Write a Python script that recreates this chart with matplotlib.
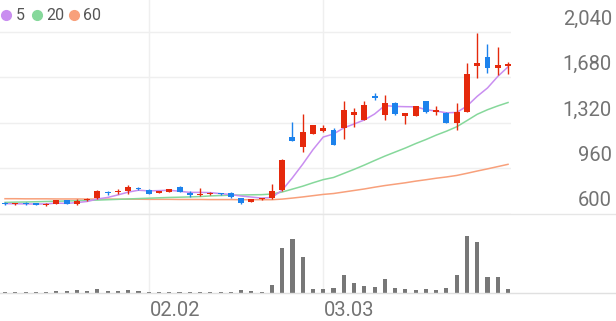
import numpy as np
import matplotlib
matplotlib.use('Agg')
import matplotlib.pyplot as plt
import matplotlib.transforms as mtransforms
from matplotlib.lines import Line2D

plt.rcParams['font.family'] = ['Roboto', 'DejaVu Sans']

# daily candles
opens = [689, 677, 689, 685, 669, 679, 708, 677, 711, 724,
         777, 772, 784, 808, 790, 769, 777, 811, 764, 753,
         761, 764, 769, 727, 697, 716, 724, 790, 1207, 1132,
         1233, 1257, 1265, 1278, 1383, 1344, 1534, 1383, 1481, 1375,
         1375, 1494, 1409, 1402, 1318, 1409, 1773, 1840, 1753, 1771]
highs = [695, 690, 692, 688, 684, 710, 710, 716, 727, 786,
         780, 795, 830, 812, 795, 783, 798, 822, 782, 803,
         772, 767, 777, 730, 722, 730, 835, 1035, 1330, 1389,
         1306, 1304, 1283, 1494, 1436, 1494, 1555, 1542, 1484, 1400,
         1457, 1497, 1451, 1405, 1481, 1792, 2030, 1943, 1919, 1803]
lows = [672, 675, 669, 672, 667, 677, 677, 674, 700, 722,
        753, 758, 758, 792, 755, 767, 775, 771, 737, 745,
        750, 753, 729, 677, 694, 713, 721, 782, 1178, 1093,
        1231, 1249, 1144, 1191, 1291, 1342, 1502, 1344, 1386, 1312,
        1372, 1397, 1383, 1320, 1265, 1406, 1674, 1713, 1700, 1705]
closes = [677, 687, 679, 674, 682, 708, 679, 705, 719, 784,
          769, 780, 811, 795, 758, 780, 795, 774, 750, 758,
          769, 756, 737, 689, 719, 727, 784, 1027, 1180, 1251,
          1304, 1283, 1146, 1423, 1405, 1462, 1518, 1481, 1389, 1397,
          1454, 1409, 1423, 1322, 1409, 1708, 1792, 1753, 1779, 1787]

# moving averages as drawn
ma5 = [682, 681, 680, 679, 680, 686, 684, 690, 699, 719,
       731, 751, 773, 788, 783, 785, 788, 780, 771, 771,
       769, 761, 754, 742, 734, 726, 731, 789, 887, 994,
       1109, 1209, 1233, 1281, 1312, 1344, 1391, 1458, 1451, 1449,
       1448, 1426, 1414, 1401, 1403, 1454, 1531, 1597, 1688, 1764]
ma20 = [692, 694, 695, 697, 699, 701, 703, 705, 707, 710,
        713, 716, 719, 722, 725, 728, 731, 733, 735, 738,
        743, 746, 749, 750, 752, 753, 758, 774, 797, 820,
        847, 872, 889, 921, 953, 987, 1023, 1058, 1090, 1122,
        1157, 1189, 1224, 1255, 1290, 1339, 1389, 1425, 1455, 1482]
ma60 = [721, 721, 720, 720, 720, 719, 719, 719, 718, 718,
        718, 717, 717, 717, 716, 716, 716, 715, 715, 715,
        714, 714, 714, 713, 713, 713, 713, 718, 726, 735,
        745, 755, 762, 774, 786, 798, 812, 825, 836, 847,
        860, 871, 883, 893, 905, 922, 940, 957, 975, 993]

# volume, thousand shares
volume = [20, 20, 20, 20, 20, 40, 40, 60, 40, 90,
          40, 40, 70, 40, 30, 30, 30, 20, 30, 30,
          30, 20, 30, 60, 40, 30, 166, 912, 1080, 732,
          86, 86, 106, 366, 212, 152, 126, 286, 100, 80,
          66, 86, 74, 100, 360, 1152, 1020, 320, 326, 92]

date_pos = [14, 31]
date_labels = ['02.02', '03.03']
price_ticks = [600, 960, 1320, 1680, 2040]
ma_names = ['5', '20', '60']
ma_colors = ['#c98ef0', '#86d89b', '#f8a07b']

UP = '#e5290c'
DOWN = '#1c82ec'
GRID = '#efefef'
TXT = '#737373'

W, H = 616, 321
fig = plt.figure(figsize=(W / 100, H / 100), dpi=100)
ax = fig.add_axes([0, (H - 214) / H, 511 / W, 214 / H])
axv = fig.add_axes([0, (H - 293.3) / H, 511 / W, (293.3 - 214) / H])

x = np.arange(len(closes))
o = np.array(opens); c = np.array(closes)
up = c >= o
colors = np.where(up, UP, DOWN)
bottom = np.minimum(o, c)
height = np.maximum(np.abs(c - o), 9)

for a in (ax, axv):
    a.set_xlim(-0.49, 49.29)
    for s in a.spines.values():
        s.set_visible(False)
    a.set_xticks([]); a.set_yticks([])
    for p in date_pos:
        a.axvline(p, color=GRID, lw=1, zorder=0)

ax.set_ylim(600, 2293)
for t in price_ticks:
    ax.axhline(t, color=GRID, lw=1, zorder=0)

ax.plot(x, ma60, color=ma_colors[2], lw=1.1, zorder=2)
ax.plot(x, ma20, color=ma_colors[1], lw=1.1, zorder=2)
ax.plot(x, ma5, color=ma_colors[0], lw=1.1, zorder=2)

ax.vlines(x, lows, highs, colors=colors, lw=1.0, zorder=3)
ax.bar(x, height, bottom=bottom, width=0.58, color=colors, zorder=4)

axv.set_ylim(0, 1586)
axv.bar(x, volume, width=0.4, color='#777777', zorder=3)

# full-width separator and baseline
fig.add_artist(Line2D([0, 1], [(H - 214) / H] * 2, color='#e6e6e6', lw=1))
fig.add_artist(Line2D([0, 1], [(H - 293.3) / H] * 2, color='#e0e0e0', lw=1))

# price labels on the right
tr = mtransforms.blended_transform_factory(fig.transFigure, ax.transData)
tr = mtransforms.offset_copy(tr, fig=fig, x=0, y=13, units='dots')
for t in price_ticks:
    ax.text(612 / W, t, f'{t:,}', transform=tr, ha='right', va='center',
            fontsize=14.5, color=TXT)

# date labels
trx = mtransforms.blended_transform_factory(axv.transData, fig.transFigure)
trx = mtransforms.offset_copy(trx, fig=fig, x=1, y=0, units='dots')
for p, lab in zip(date_pos, date_labels):
    axv.text(p, (H - 310) / H, lab, transform=trx, ha='left', va='center',
             fontsize=14.5, color=TXT, clip_on=False)

# legend
dot_x = [6, 37, 74]
for dx, name, col in zip(dot_x, ma_names, ma_colors):
    fig.add_artist(Line2D([dx / W], [(H - 15) / H], marker='o', ms=7,
                          color=col, lw=0))
    fig.text((dx + 9.5) / W, (H - 15) / H, name, ha='left', va='center',
             fontsize=11.5, color='#555555')

fig.savefig('out.png', dpi=100)
